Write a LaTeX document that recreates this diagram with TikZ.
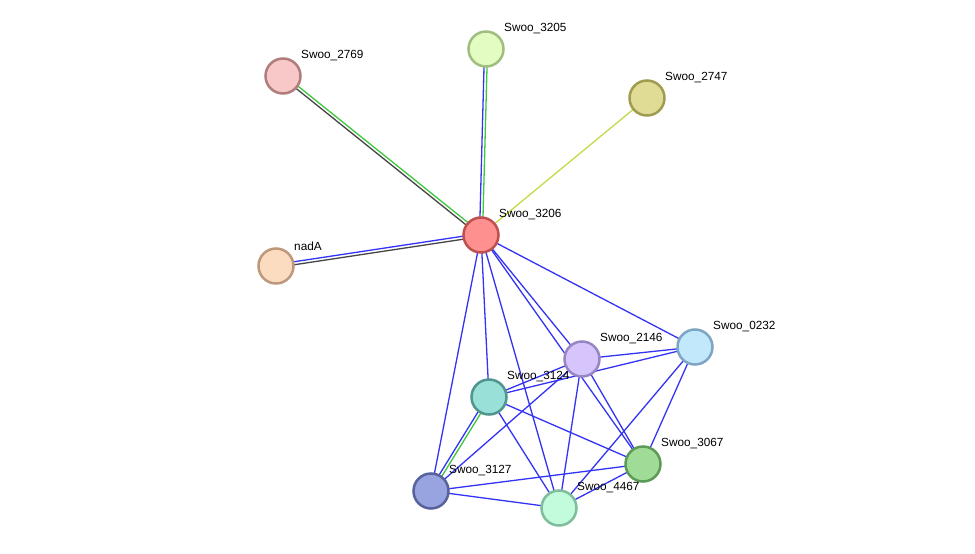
\documentclass[tikz,border=0pt]{standalone}
\usepackage{fontspec}
\setmainfont{Liberation Sans}
\usetikzlibrary{calc,backgrounds}

\definecolor{edgeblue}{RGB}{51,51,245}
\definecolor{edgegreen}{RGB}{60,200,60}
\definecolor{edgegrey}{RGB}{70,70,70}
\definecolor{edgeyellow}{RGB}{196,218,70}

\tikzset{
  prot/.style={circle,minimum size=35pt,inner sep=0pt,line width=2.5pt},
  lbl/.style={anchor=west,inner sep=0pt,font=\fontsize{11.8}{12}\selectfont},
  link/.style={line width=1.3pt}
}

% one interaction drawn as two parallel lines
\newcommand{\twolink}[4]{%
  \draw[link,#3] ($(#1.center)!1.5pt!90:(#2.center)$) -- ($(#2.center)!1.5pt!-90:(#1.center)$);
  \draw[link,#4] ($(#1.center)!1.5pt!-90:(#2.center)$) -- ($(#2.center)!1.5pt!90:(#1.center)$);}

\begin{document}
\begin{tikzpicture}[x=1pt,y=-1pt]
\useasboundingbox (0,0) rectangle (975,554);

\node[prot,fill={rgb,255:red,248;green,200;blue,200},draw={rgb,255:red,176;green,124;blue,124}] (n2769) at (283,76) {};
\node[prot,fill={rgb,255:red,226;green,252;blue,194},draw={rgb,255:red,160;green,190;blue,128}] (n3205) at (486,49) {};
\node[prot,fill={rgb,255:red,224;green,220;blue,150},draw={rgb,255:red,160;green,156;blue,80}] (n2747) at (647,98) {};
\node[prot,fill={rgb,255:red,255;green,144;blue,144},draw={rgb,255:red,192;green,80;blue,80}] (n3206) at (481,235) {};
\node[prot,fill={rgb,255:red,252;green,220;blue,192},draw={rgb,255:red,190;green,152;blue,124}] (nadA) at (276,266) {};
\node[prot,fill={rgb,255:red,214;green,196;blue,252},draw={rgb,255:red,152;green,134;blue,196}] (n2146) at (582,359) {};
\node[prot,fill={rgb,255:red,194;green,232;blue,252},draw={rgb,255:red,126;green,166;blue,196}] (n0232) at (695,347) {};
\node[prot,fill={rgb,255:red,152;green,224;blue,216},draw={rgb,255:red,80;green,150;blue,142}] (n3124) at (489,397) {};
\node[prot,fill={rgb,255:red,160;green,220;blue,152},draw={rgb,255:red,92;green,154;blue,88}] (n3067) at (643,464) {};
\node[prot,fill={rgb,255:red,152;green,164;blue,224},draw={rgb,255:red,88;green,98;blue,156}] (n3127) at (431,491) {};
\node[prot,fill={rgb,255:red,194;green,252;blue,220},draw={rgb,255:red,126;green,190;blue,156}] (n4467) at (559,508) {};

\node[lbl] at ($(n2769)+(18,-20)$) {Swoo\_2769};
\node[lbl] at ($(n3205)+(18,-20)$) {Swoo\_3205};
\node[lbl] at ($(n2747)+(18,-20)$) {Swoo\_2747};
\node[lbl] at ($(n3206)+(18,-20)$) {Swoo\_3206};
\node[lbl] at ($(nadA)+(18,-20)$) {nadA};
\node[lbl] at ($(n2146)+(18,-20)$) {Swoo\_2146};
\node[lbl] at ($(n0232)+(18,-20)$) {Swoo\_0232};
\node[lbl] at ($(n3124)+(18,-20)$) {Swoo\_3124};
\node[lbl] at ($(n3067)+(18,-20)$) {Swoo\_3067};
\node[lbl] at ($(n3127)+(18,-20)$) {Swoo\_3127};
\node[lbl] at ($(n4467)+(18,-20)$) {Swoo\_4467};

\begin{scope}[on background layer]
\fill[white] (0,0) rectangle (975,554);
\twolink{n3206}{n2769}{edgegrey}{edgegreen}
\twolink{n3206}{n3205}{edgeblue}{edgegreen}
\twolink{n3206}{nadA}{edgegrey}{edgeblue}
\twolink{n3124}{n3127}{edgegreen}{edgeblue}
\draw[link,edgeyellow] (n3206.center) -- (n2747.center);
\foreach \t in {n3127,n3124,n4467,n2146,n3067,n0232}
  \draw[link,edgeblue] (n3206.center) -- (\t.center);
\foreach \s/\t in {n2146/n0232,n2146/n3067,n2146/n4467,n2146/n3127,n2146/n3124,
                   n0232/n3067,n0232/n4467,n0232/n3124,
                   n3124/n3067,n3124/n4467,
                   n3127/n3067,n3127/n4467,n3067/n4467}
  \draw[link,edgeblue] (\s.center) -- (\t.center);
\end{scope}
\end{tikzpicture}
\end{document}
